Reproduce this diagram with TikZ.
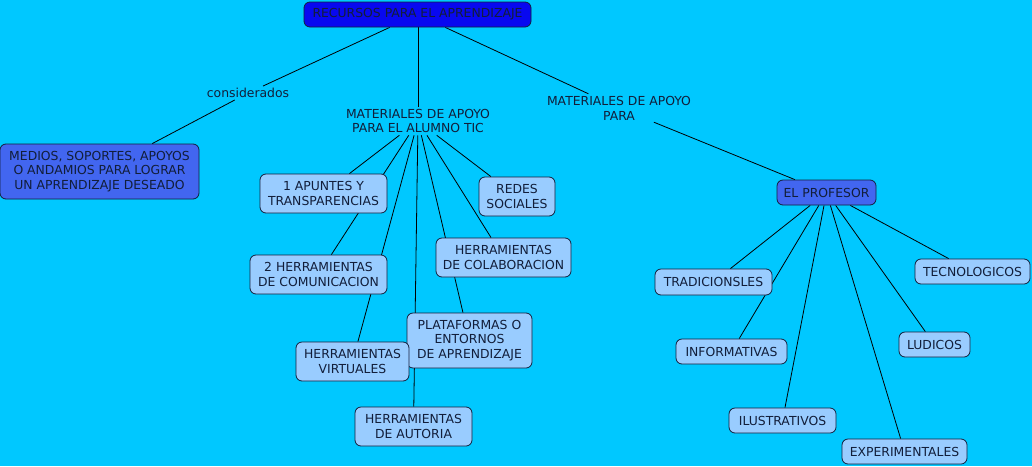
\documentclass[tikz,border=0pt]{standalone}
\usepackage{fontspec}
\setmainfont{DejaVu Sans}
\usetikzlibrary{backgrounds}
\definecolor{bg}{RGB}{0,200,255}
\definecolor{rootfill}{RGB}{8,8,240}
\definecolor{midfill}{RGB}{66,102,240}
\definecolor{lightfill}{RGB}{153,204,255}
\definecolor{txt}{RGB}{18,30,58}
\definecolor{bord}{RGB}{20,30,60}
\tikzset{
  fnt/.style={font=\fontsize{12.4}{14.8}\selectfont},
  box/.style={fnt, draw=bord, line width=0.8pt, rounded corners=6pt, fill=lightfill, text=txt, align=center, inner sep=0pt},
  darkbox/.style={box, fill=midfill},
  rootbox/.style={box, fill=rootfill},
  lbl/.style={fnt, text=txt, align=center, inner sep=2pt},
  conn/.style={draw=black, line width=0.8pt}
}
\begin{document}
\begin{tikzpicture}[x=1pt,y=-1pt]
\useasboundingbox (0,0) rectangle (1032,466);
% nodes
\node[rootbox, minimum width=227pt, minimum height=25pt] (root) at (417.5,14.5) {RECURSOS PARA EL APRENDIZAJE};
\node[lbl] (cons) at (248,93) {considerados};
\node[darkbox, minimum width=199pt, minimum height=55pt] (medios) at (99.5,171.5) {MEDIOS, SOPORTES, APOYOS\\ O ANDAMIOS PARA LOGRAR\\ UN APRENDIZAJE DESEADO};
\node[lbl] (tic) at (418,121) {MATERIALES DE APOYO\\ PARA EL ALUMNO TIC};
\node[lbl] (para) at (619,108) {MATERIALES DE APOYO\\ PARA};
\node[box, minimum width=127pt, minimum height=39pt] (apuntes) at (323.5,193.5) {1 APUNTES Y\\ TRANSPARENCIAS};
\node[box, minimum width=76pt, minimum height=39pt] (redes) at (517,196.5) {REDES\\ SOCIALES};
\node[box, minimum width=137pt, minimum height=39pt] (comun) at (318.5,274.5) {2 HERRAMIENTAS\\ DE COMUNICACION};
\node[box, minimum width=135pt, minimum height=39pt] (colab) at (503.5,257.5) {HERRAMIENTAS\\ DE COLABORACION};
\node[box, minimum width=125pt, minimum height=55pt] (plat) at (469.5,340.5) {PLATAFORMAS O\\ ENTORNOS\\ DE APRENDIZAJE};
\node[box, minimum width=113pt, minimum height=39pt] (virt) at (352.5,361.5) {HERRAMIENTAS\\ VIRTUALES};
\node[box, minimum width=117pt, minimum height=39pt] (autor) at (413.5,426.5) {HERRAMIENTAS\\ DE AUTORIA};
\node[darkbox, minimum width=99pt, minimum height=25pt] (prof) at (826.5,192.5) {EL PROFESOR};
\node[box, minimum width=117pt, minimum height=26pt] (trad) at (713.5,282) {TRADICIONSLES};
\node[box, minimum width=115pt, minimum height=25pt] (tecno) at (972.5,271.5) {TECNOLOGICOS};
\node[box, minimum width=111pt, minimum height=25pt] (info) at (731.5,351.5) {INFORMATIVAS};
\node[box, minimum width=71pt, minimum height=25pt] (ludi) at (934.5,344.5) {LUDICOS};
\node[box, minimum width=107pt, minimum height=25pt] (ilus) at (782.5,420.5) {ILUSTRATIVOS};
\node[box, minimum width=125pt, minimum height=25pt] (exper) at (904.5,451.5) {EXPERIMENTALES};
% background and connectors
\begin{scope}[on background layer]
\fill[bg] (0,0) rectangle (1032,466);
\draw[conn] (root) -- (cons);
\draw[conn] (cons) -- (medios);
\draw[conn] (root.south -| tic.north) -- (tic);
\draw[conn] (root) -- (para);
\draw[conn] (para) -- (prof);
\foreach \t in {apuntes,redes,comun,colab,plat,virt,autor}
  \draw[conn] (tic) -- (\t);
\foreach \t in {trad,tecno,info,ludi,ilus,exper}
  \draw[conn] (prof) -- (\t);
\end{scope}
\end{tikzpicture}
\end{document}
